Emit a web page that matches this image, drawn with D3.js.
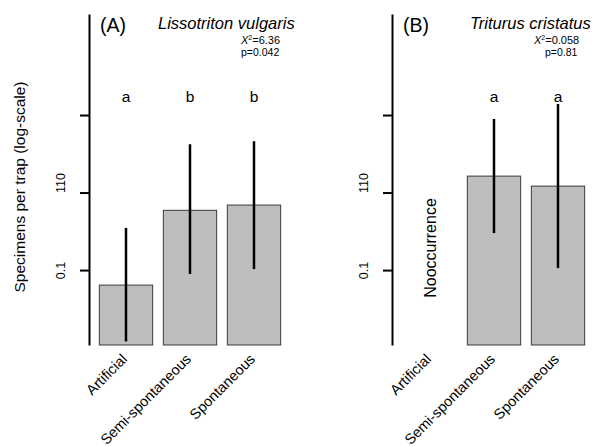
<!DOCTYPE html>
<html>
<head>
<meta charset="utf-8">
<script src="https://cdn.jsdelivr.net/npm/d3@7"></script>
<style>
  body { margin: 0; background: #fff; }
  svg { font-family: "Liberation Sans", Arial, sans-serif; }
</style>
</head>
<body>
<svg id="chart" width="599" height="446"></svg>
<script>
// categories and values (log-scale y)
const categories = ["Artificial", "Semi-spontaneous", "Spontaneous"];

const vulgarisMean = [0.064, 0.59, 0.69];
const vulgarisLower = [0.012, 0.089, 0.103];
const vulgarisUpper = [0.35, 4.2, 4.6];
const vulgarisLetters = ["a", "b", "b"];

const cristatusMean = [null, 1.63, 1.21];
const cristatusLower = [null, 0.30, 0.106];
const cristatusUpper = [null, 8.9, 13.9];
const cristatusLetters = ["", "a", "a"];

const tickValues = [0.1, 1, 10];
const tickLabels = ["0.1", "110", ""];
// the "110" label sits above its tick in the original
const tickAnchors = ["middle", "start", "middle"];

const yDomain = [0.0108, 201];

const svg = d3.select('#chart');

// shared y scale, same for both panels
const yScale = d3.scaleLog()
    .domain(yDomain)
    .range([345, 14]);

// y axis title only on the left panel
svg.append('text')
    .attr('transform', 'translate(25,187) rotate(-90)')
    .attr('text-anchor', 'middle')
    .style('font-size', '15.5px')
    .text('Specimens per trap (log-scale)');

function drawPanel(cfg) {
  const g = svg.append('g');

  const rows = categories.map((c, i) => ({
    cat: c,
    mean: cfg.mean[i],
    lower: cfg.lower[i],
    upper: cfg.upper[i],
    letter: cfg.letters[i]
  }));

  const xScale = d3.scaleBand()
      .domain(categories)
      .range([cfg.x0, cfg.x0 + 192])
      .paddingInner(0.2 / 1.2)
      .paddingOuter(0.1 / 1.2);
  const mid = d => xScale(d.cat) + xScale.bandwidth() / 2;

  // y axis
  const yAxis = d3.axisLeft(yScale)
      .tickValues(tickValues)
      .tickFormat((d, i) => tickLabels[i])
      .tickSize(9)
      .tickSizeOuter(0);

  const yAxisG = g.append('g')
      .attr('transform', `translate(${cfg.axisX},0)`)
      .call(yAxis);
  yAxisG.select('.domain').attr('stroke', '#000').attr('stroke-width', 2);
  yAxisG.selectAll('.tick line').attr('stroke', '#000').attr('stroke-width', 2);
  yAxisG.selectAll('.tick text')
      .attr('x', null)
      .attr('dy', null)
      .attr('transform', 'translate(-24.5,0) rotate(-90)')
      .attr('text-anchor', (d, i) => tickAnchors[i])
      .attr('fill', '#000')
      .style('font-size', '12.5px')
      .style('font-family', '"Liberation Sans", Arial, sans-serif');

  // bars
  const present = rows.filter(d => d.mean != null);
  g.selectAll('.bar')
      .data(present)
      .join('rect')
      .attr('class', 'bar')
      .attr('x', d => xScale(d.cat))
      .attr('width', xScale.bandwidth())
      .attr('y', d => yScale(d.mean))
      .attr('height', d => yScale(yDomain[0]) - yScale(d.mean))
      .attr('fill', '#bebebe')
      .attr('stroke', '#3a3a3a')
      .attr('stroke-width', 1);

  // error bars
  g.selectAll('.err')
      .data(present)
      .join('line')
      .attr('class', 'err')
      .attr('x1', mid)
      .attr('x2', mid)
      .attr('y1', d => yScale(d.lower))
      .attr('y2', d => yScale(d.upper))
      .attr('stroke', '#000')
      .attr('stroke-width', 2.5);

  // group letters
  g.selectAll('.letter')
      .data(rows)
      .join('text')
      .attr('class', 'letter')
      .attr('x', mid)
      .attr('y', 102)
      .attr('text-anchor', 'middle')
      .style('font-size', '15.5px')
      .text(d => d.letter);

  // category labels, rotated
  g.selectAll('.xlab')
      .data(rows)
      .join('text')
      .attr('class', 'xlab')
      .attr('transform', d => `translate(${mid(d) + 2},360) rotate(-45)`)
      .attr('text-anchor', 'end')
      .style('font-size', '14.5px')
      .text(d => d.cat);

  // no occurrence note
  rows.filter(d => d.mean == null).forEach(d => {
    g.append('text')
        .attr('transform', `translate(${mid(d) + 6},248) rotate(-90)`)
        .attr('text-anchor', 'middle')
        .style('font-size', '16px')
        .text('Nooccurrence');
  });

  // panel tag and species
  g.append('text')
      .attr('x', cfg.axisX + 11)
      .attr('y', 32)
      .style('font-size', '19.5px')
      .text(cfg.tag);

  g.append('text')
      .attr('x', cfg.titleX)
      .attr('y', 29)
      .style('font-size', '16.5px')
      .style('font-style', 'italic')
      .text(cfg.species);

  const chi = g.append('text')
      .attr('x', cfg.statX)
      .attr('y', 44)
      .style('font-size', '11px');
  chi.append('tspan').style('font-style', 'italic').text('X');
  chi.append('tspan').attr('dy', -4).style('font-size', '7px').text('2');
  chi.append('tspan').attr('dy', 4).text('=' + cfg.chi);

  g.append('text')
      .attr('x', cfg.pX)
      .attr('y', 55.5)
      .style('font-size', '10.5px')
      .text('p=' + cfg.p);
}

drawPanel({
  axisX: 89, x0: 94, tag: '(A)', species: 'Lissotriton vulgaris',
  titleX: 158, statX: 241, pX: 241, chi: '6.36', p: '0.042',
  mean: vulgarisMean, lower: vulgarisLower, upper: vulgarisUpper, letters: vulgarisLetters
});

drawPanel({
  axisX: 392, x0: 398, tag: '(B)', species: 'Triturus cristatus',
  titleX: 470, statX: 534, pX: 545, chi: '0.058', p: '0.81',
  mean: cristatusMean, lower: cristatusLower, upper: cristatusUpper, letters: cristatusLetters
});
</script>
</body>
</html>
